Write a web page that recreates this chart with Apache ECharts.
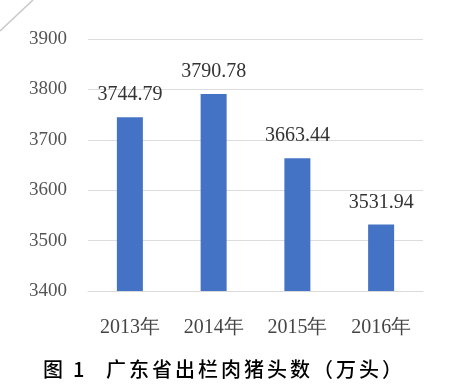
<!DOCTYPE html>
<html>
<head>
<meta charset="utf-8">
<script src="https://cdn.jsdelivr.net/npm/echarts@6/dist/echarts.min.js"></script>
<style>html,body{margin:0;padding:0;background:#fff;}#c{width:462px;height:390px;}</style>
</head>
<body>
<div id="c"></div>
<script>
var categories = ['2013年', '2014年', '2015年', '2016年'];
var values = [3744.79, 3790.78, 3663.44, 3531.94];
var yTicks = [3400, 3500, 3600, 3700, 3800, 3900];
var figLabel = '图 1';
var titleText = '广东省出栏肉猪头数（万头）';

var chart = echarts.init(document.getElementById('c'), null, {renderer: 'canvas'});
var serif = 'Liberation Serif';
var cjk = 'Noto Sans CJK SC';

var titleRich = titleText.split('').map(function (ch) { return '{c|' + ch + '}'; }).join('');
var figParts = figLabel.split(' ');
var figRich = '{f|' + figParts[0] + '}{n|' + figParts[1] + '}';

chart.setOption({
  backgroundColor: '#ffffff',
  animation: false,
  grid: {left: 88, right: 39, top: 39, bottom: 99, containLabel: false},
  xAxis: {
    type: 'category',
    data: categories,
    axisLine: {show: true, lineStyle: {color: '#d9d9d9', width: 1}},
    axisTick: {show: false},
    axisLabel: {margin: 27, fontSize: 20, fontFamily: serif, color: '#444444'}
  },
  yAxis: {
    type: 'value',
    min: yTicks[0],
    max: yTicks[yTicks.length - 1],
    interval: 100,
    axisLine: {show: false},
    axisTick: {show: false},
    splitLine: {lineStyle: {color: '#dcdcdc', width: 1}},
    axisLabel: {margin: 21, fontSize: 19, fontFamily: serif, color: '#555555',
      formatter: function (v) { return String(v); }}
  },
  series: [{
    type: 'bar',
    data: values,
    barWidth: 26,
    itemStyle: {color: '#4472c4'},
    label: {
      show: true,
      position: 'top',
      distance: 12,
      fontSize: 20,
      fontFamily: serif,
      color: '#333333',
      formatter: function (p) { return p.value.toFixed(2); }
    }
  }],
  graphic: [
    {type: 'line', shape: {x1: 0, y1: 31, x2: 33, y2: 0}, style: {stroke: '#c8c8c8', lineWidth: 1.5}},
    {type: 'text', left: 43, top: 359, style: {
      text: figRich,
      rich: {
        f: {width: 30, align: 'left', fontSize: 20, fontWeight: 500, fontFamily: cjk, color: '#222222'},
        n: {fontSize: 20, fontWeight: 500, fontFamily: cjk, color: '#222222'}
      }
    }},
    {type: 'text', left: 106, top: 359, style: {
      text: titleRich,
      rich: {c: {width: 23, align: 'left', fontSize: 20, fontWeight: 500, fontFamily: cjk, color: '#222222'}}
    }}
  ]
});
</script>
</body>
</html>
